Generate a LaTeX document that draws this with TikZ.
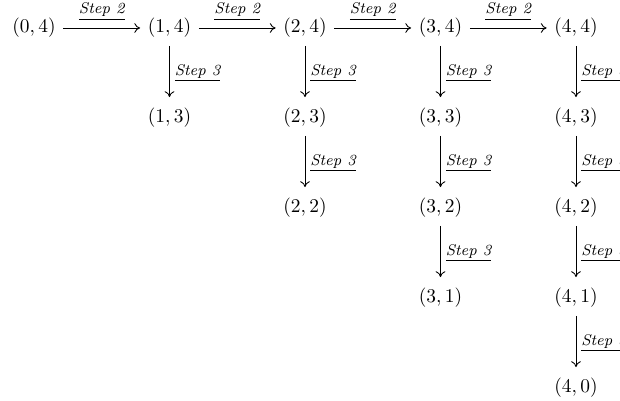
\documentclass[tikz,border=0pt]{standalone}
\usetikzlibrary{arrows.meta}
\begin{document}
\begin{tikzpicture}[x=0.515pt,y=-0.515pt,
  pt/.style={inner xsep=3.8pt,inner ysep=4pt,font=\normalsize},
  conn/.style={-{To[length=3pt,width=5pt]},line width=0.45pt},
  vconn/.style={conn,shorten >=1.6pt},
  stepl/.style={font=\footnotesize\itshape,inner sep=1.5pt}]
\clip (0,0) rectangle (620,401);
\useasboundingbox (0,0) rectangle (620,401);
% nodes
\node[pt] (n04) at (34,28) {$(0,4)$};
\node[pt] (n14) at (169.5,28) {$(1,4)$};
\node[pt] (n13) at (169.5,118) {$(1,3)$};
\node[pt] (n24) at (305,28) {$(2,4)$};
\node[pt] (n23) at (305,118) {$(2,3)$};
\node[pt] (n22) at (305,208) {$(2,2)$};
\node[pt] (n34) at (440.5,28) {$(3,4)$};
\node[pt] (n33) at (440.5,118) {$(3,3)$};
\node[pt] (n32) at (440.5,208) {$(3,2)$};
\node[pt] (n31) at (440.5,298) {$(3,1)$};
\node[pt] (n44) at (576,28) {$(4,4)$};
\node[pt] (n43) at (576,118) {$(4,3)$};
\node[pt] (n42) at (576,208) {$(4,2)$};
\node[pt] (n41) at (576,298) {$(4,1)$};
\node[pt] (n40) at (576,388) {$(4,0)$};
% horizontal arrows
\foreach \a/\b in {n04/n14,n14/n24,n24/n34,n34/n44}
  \draw[conn] (\a) -- node[stepl,above,yshift=2pt] {\underline{Step 2}} (\b);
% vertical arrows
\foreach \a/\b in {n14/n13,n24/n23,n23/n22,n34/n33,n33/n32,n32/n31,n44/n43,n43/n42,n42/n41,n41/n40}
  \draw[vconn] (\a) -- node[stepl,right,xshift=1pt] {\underline{Step 3}} (\b);
\end{tikzpicture}
\end{document}
